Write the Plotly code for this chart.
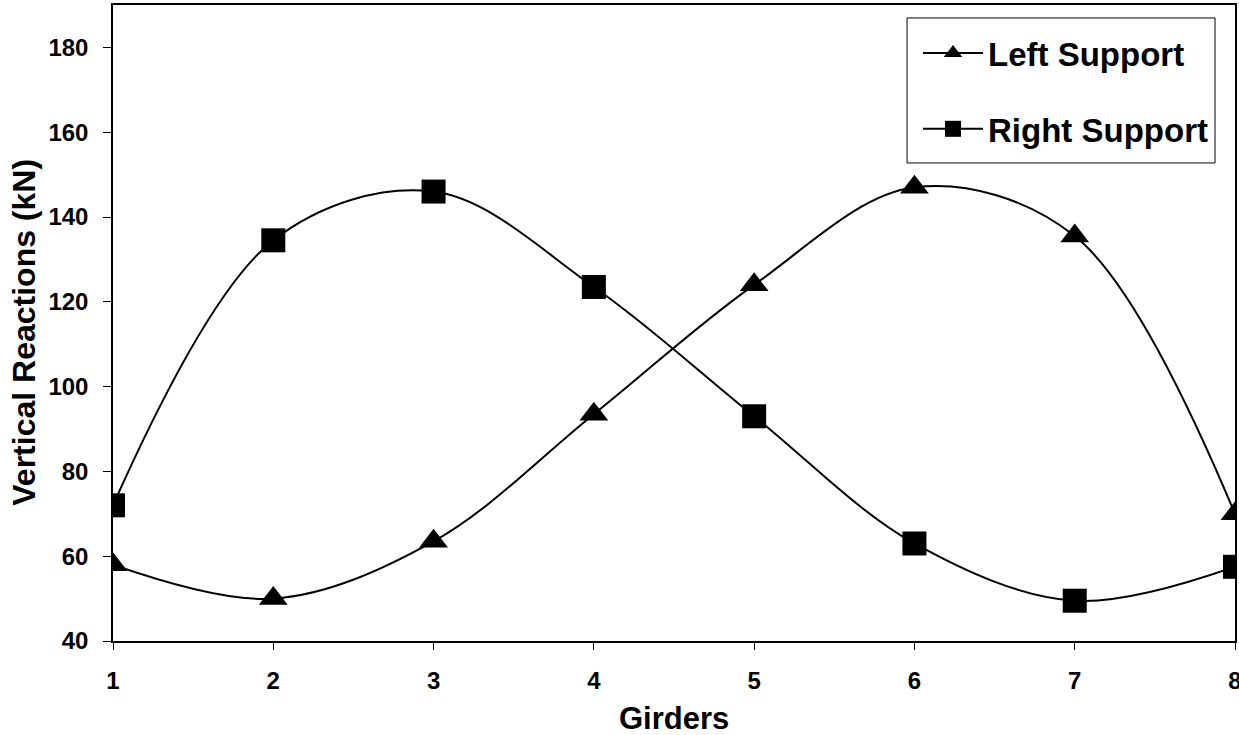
import plotly.graph_objects as go

girders = [1, 2, 3, 4, 5, 6, 7, 8]
left_support = [58, 50, 63.5, 93.5, 124, 147, 135.5, 70]
right_support = [72, 134.5, 146, 123.5, 93, 63, 49.5, 57.5]
y_ticks = [40, 60, 80, 100, 120, 140, 160, 180]

FONT = "Arial, Liberation Sans, sans-serif"

fig = go.Figure()
fig.add_trace(go.Scatter(
    x=girders, y=left_support, name="Left Support", mode="lines+markers",
    line=dict(color="black", width=2, shape="spline", smoothing=1),
    marker=dict(symbol="triangle-up", size=25, color="black"),
    legendgroup="a",
))
fig.add_trace(go.Scatter(
    x=girders, y=right_support, name="Right Support", mode="lines+markers",
    line=dict(color="black", width=2, shape="spline", smoothing=1),
    marker=dict(symbol="square", size=24, color="black"),
    legendgroup="b",
))

fig.update_layout(
    width=1239, height=735,
    margin=dict(l=113, r=4, t=5, b=94),
    paper_bgcolor="white", plot_bgcolor="white",
    font=dict(family=FONT, color="black"),
    showlegend=True,
    legend=dict(
        x=0.7175, y=0.9686, xanchor="left", yanchor="top",
        bgcolor="rgba(0,0,0,0)", borderwidth=0,
        font=dict(family=FONT, size=33, color="black", weight="bold"),
        tracegroupgap=30, itemwidth=60,
    ),
    shapes=[
        dict(type="rect", xref="paper", yref="paper",
             x0=0.7077, x1=0.9822, y0=0.7516, y1=0.9796,
             line=dict(color="black", width=1), fillcolor="rgba(0,0,0,0)",
             layer="above"),
    ],
    xaxis=dict(
        range=[1, 8], tickvals=girders, showgrid=False, zeroline=False,
        showline=True, linecolor="black", linewidth=1.5, mirror=True,
        ticks="outside", ticklen=7, tickcolor="black", tickwidth=1,
        tickfont=dict(family=FONT, size=24, color="black", weight="bold"),
        ticklabelstandoff=10, ticklabeloverflow="allow", automargin=False,
    ),
    yaxis=dict(
        range=[40, 190], tickvals=y_ticks, showgrid=False, zeroline=False,
        showline=True, linecolor="black", linewidth=1.5, mirror=True,
        ticks="outside", ticklen=8, tickcolor="black", tickwidth=1,
        tickfont=dict(family=FONT, size=24, color="black", weight="bold"),
        ticklabelstandoff=10, automargin=False,
    ),
    annotations=[
        dict(text="Girders", xref="paper", yref="paper", x=0.5, y=-0.1226,
             xanchor="center", yanchor="middle", showarrow=False,
             font=dict(family=FONT, size=31, color="black", weight="bold")),
        dict(text="Vertical Reactions (kN)", xref="paper", yref="paper",
             x=-0.0795, y=0.486, xanchor="center", yanchor="middle", textangle=-90,
             showarrow=False,
             font=dict(family=FONT, size=32, color="black", weight="bold")),
    ],
)

fig.write_html("out.html")
